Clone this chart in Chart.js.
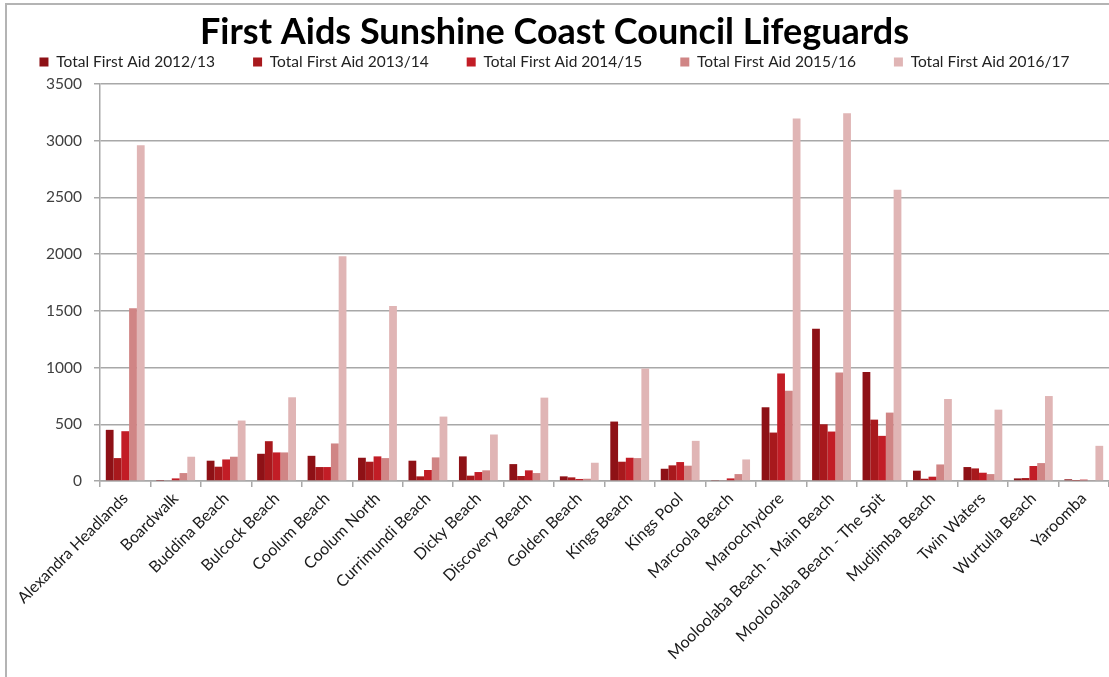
<!DOCTYPE html>
<html>
<head>
<meta charset="utf-8">
<script src="https://cdn.jsdelivr.net/npm/chart.js@4"></script>
<style>
  html, body { margin: 0; padding: 0; background: #fff; }
  #wrap { position: relative; width: 1109px; height: 677px; overflow: hidden; }
  #frame { position: absolute; left: 5px; top: 3px; width: 1200px; height: 800px; border-left: 2px solid #b4b4b4; border-top: 2px solid #b4b4b4; pointer-events: none; }
</style>
</head>
<body>
<div id="wrap">
  <canvas id="c"></canvas>
  <div id="frame"></div>
</div>
<script>
const beaches = ['Alexandra Headlands', 'Boardwalk', 'Buddina Beach', 'Bulcock Beach', 'Coolum Beach',
  'Coolum North', 'Currimundi Beach', 'Dicky Beach', 'Discovery Beach', 'Golden Beach', 'Kings Beach',
  'Kings Pool', 'Marcoola Beach', 'Maroochydore', 'Mooloolaba Beach - Main Beach',
  'Mooloolaba Beach - The Spit', 'Mudjimba Beach', 'Twin Waters', 'Wurtulla Beach', 'Yaroomba'];

const aid2012 = [451, 3, 179, 240, 222, 205, 179, 217, 149, 41, 524, 108, 9, 650, 1343, 960, 91, 123, 23, 15];
const aid2013 = [202, 6, 126, 351, 123, 170, 41, 47, 44, 32, 170, 138, 6, 427, 500, 541, 20, 111, 26, 3];
const aid2014 = [439, 23, 190, 252, 123, 217, 97, 79, 94, 18, 205, 167, 23, 948, 436, 398, 38, 73, 132, 12];
const aid2015 = [1522, 70, 214, 252, 331, 202, 208, 94, 70, 20, 202, 135, 61, 796, 957, 603, 146, 61, 158, 6];
const aid2016 = [2959, 214, 533, 738, 1982, 1543, 568, 410, 735, 161, 992, 354, 190, 3196, 3243, 2567, 723, 629, 749, 310];

const seasons = ['Total First Aid 2012/13', 'Total First Aid 2013/14', 'Total First Aid 2014/15',
  'Total First Aid 2015/16', 'Total First Aid 2016/17'];
const colours = ['#8e1116', '#a8191d', '#c21d26', '#d08585', '#e0b5b5'];

const font = 'Lato';
const grey = '#a8a8a8';

const series = [aid2012, aid2013, aid2014, aid2015, aid2016];
const datasets = series.map((vals, i) => ({
  label: seasons[i],
  data: vals,
  backgroundColor: colours[i],
  borderWidth: 0,
  categoryPercentage: 0.77,
  barPercentage: 1.0
}));

new Chart(document.getElementById('c'), {
  type: 'bar',
  data: { labels: beaches, datasets: datasets },
  options: {
    responsive: true,
    maintainAspectRatio: false,
    animation: false,
    layout: { padding: 0 },
    plugins: {
      title: {
        display: true,
        text: 'First Aids Sunshine Coast Council Lifeguards',
        color: '#000',
        font: { family: font, size: 36, weight: 'bold' },
        padding: { top: 11, bottom: -38 }
      },
      legend: {
        position: 'top',
        labels: {
          boxWidth: 9,
          boxHeight: 9,
          padding: 38,
          color: '#222',
          font: { family: font, size: 15.5 }
        }
      },
      tooltip: { enabled: false }
    },
    scales: {
      x: {
        afterFit: s => { s.height = 196; },
        grid: { offset: true, drawOnChartArea: false, drawTicks: true, tickLength: 6, color: grey, lineWidth: 1.5 },
        border: { color: grey, width: 1.5 },
        ticks: {
          autoSkip: false,
          minRotation: 45,
          maxRotation: 45,
          padding: 2,
          color: '#1a1a1a',
          font: { family: font, size: 16 }
        }
      },
      // empty top axis, only keeps a small gap between legend and plot
      gap: {
        type: 'category',
        position: 'top',
        afterFit: s => { s.height = 4.3; },
        grid: { display: false },
        border: { display: false },
        ticks: { display: false }
      },
      y: {
        min: 0,
        max: 3500,
        afterFit: s => { s.width = 100; },
        grid: { color: grey, lineWidth: 1.5, tickLength: 6 },
        border: { color: grey, width: 1.5 },
        ticks: {
          stepSize: 500,
          padding: 12,
          color: '#404040',
          font: { family: font, size: 15.5 },
          callback: v => String(v)
        }
      }
    }
  }
});
</script>
</body>
</html>
